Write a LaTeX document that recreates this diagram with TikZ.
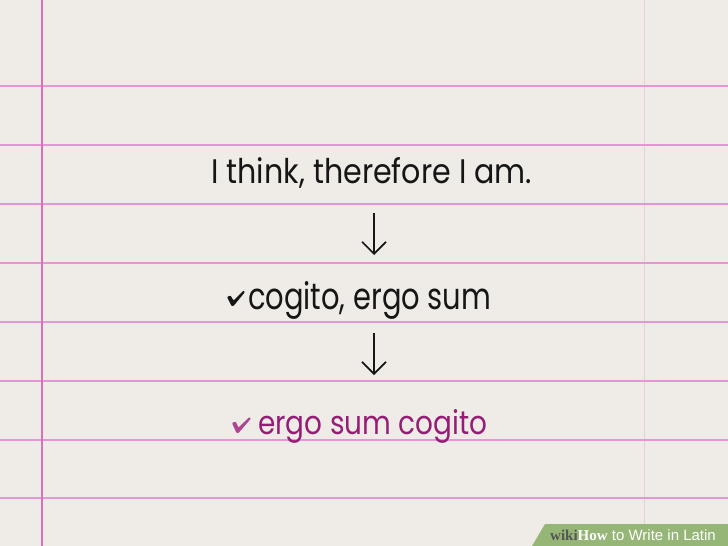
\documentclass[tikz,border=0pt]{standalone}
\usepackage{fontspec}
\usepackage{graphicx}
\usetikzlibrary{arrows.meta}
\newfontfamily\hand{Poppins}
\newfontfamily\wsans{Liberation Sans}
\newfontfamily\wserif{Liberation Serif}
\definecolor{paper}{RGB}{239,236,231}
\definecolor{rule}{RGB}{230,150,210}
\definecolor{margin}{RGB}{222,110,185}
\definecolor{ink}{RGB}{22,22,22}
\definecolor{plum}{RGB}{150,28,118}
\definecolor{plumlight}{RGB}{172,70,145}
\definecolor{wgreen}{RGB}{150,182,120}
\definecolor{wgray}{RGB}{85,85,85}
\tikzset{
  hline/.style={draw=rule, line width=1.3pt},
  vline/.style={draw=margin, line width=1.3pt},
  txt/.style={inner sep=0pt, anchor=base west},
  harrow/.style={draw=ink, line width=1.7pt, -{Straight Barb[length=12pt,width=24pt,line width=1.7pt]}},
}
\begin{document}
\begin{tikzpicture}[x=1pt,y=-1pt]
\useasboundingbox (0,0) rectangle (728,546);
\fill[paper] (0,0) rectangle (728,546);
% ruled lines
\foreach \yy in {86,145,204,263,322,381,440,498}
  \draw[hline] (0,\yy) -- (728,\yy);
\draw[vline] (42,0) -- (42,546);
\draw[draw=rule, opacity=0.35, line width=0.8pt] (644,0) -- (644,546);
% texts
\node[txt, text=ink] (l1) at (211,183) {\resizebox{321pt}{26pt}{\hand I think, therefore I am.}};
\node[txt, text=ink] (l2) at (248,309) {\resizebox{243pt}{28pt}{\hand cogito, ergo sum}};
\node[txt, text=plum] (l3) at (258,434) {\resizebox{229pt}{25pt}{\hand ergo sum cogito}};
% check marks
\fill[ink, rounded corners=0.8pt] (227,297) -- (230.5,295.5) -- (233.5,300.5) -- (243.5,290.5) -- (245,292) -- (233.5,306) -- (231.5,306) -- cycle;
\fill[plumlight, rounded corners=0.8pt] (232,423) -- (235.5,421.5) -- (238.5,427.5) -- (249.5,417) -- (251,418.5) -- (238.5,433) -- (236.5,433) -- cycle;
% arrows
\coordinate (a1s) at (374,213);
\coordinate (a1e) at (374,255);
\coordinate (a2s) at (374,333);
\coordinate (a2e) at (374,375);
\draw[harrow] (a1s) -- (a1e);
\draw[harrow] (a2s) -- (a2e);
% watermark
\fill[wgreen] (545,524) -- (728,524) -- (728,546) -- (532,546) -- cycle;
\node[inner sep=0pt, anchor=base west] (wm) at (550,540)
  {\fontsize{15pt}{15pt}\selectfont{\wserif\bfseries\color{wgray}wiki}{\wserif\bfseries\color{white}How}\color{white}\wsans\ to Write in Latin};
\end{tikzpicture}
\end{document}
